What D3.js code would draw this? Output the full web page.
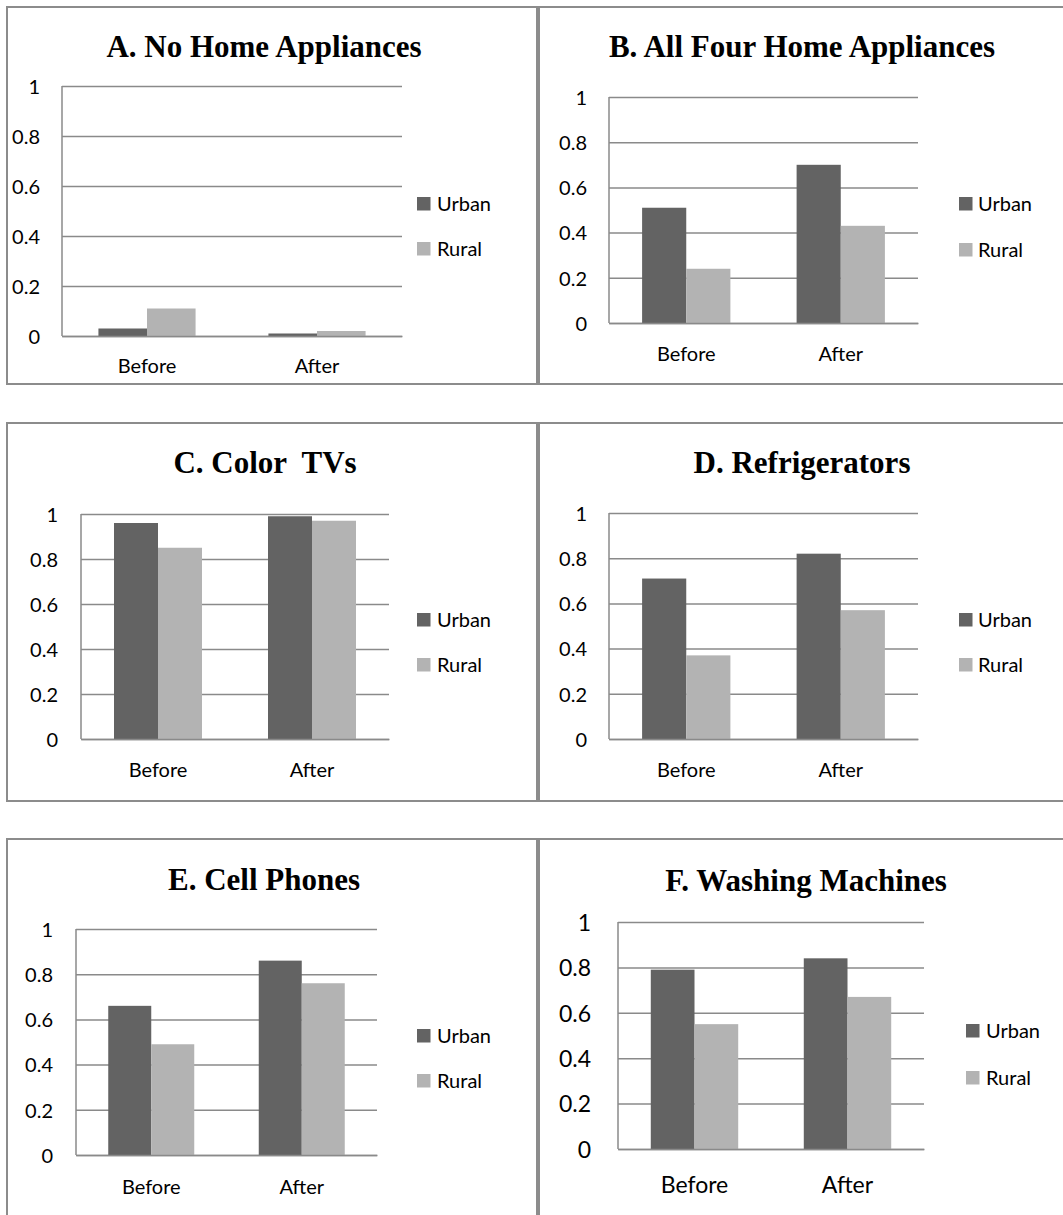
<!DOCTYPE html>
<html>
<head>
<meta charset="utf-8">
<script src="https://cdn.jsdelivr.net/npm/d3@7"></script>
<style>
  html, body { margin: 0; padding: 0; background: #ffffff; }
  svg { display: block; }
</style>
</head>
<body>
<script>
// ---------------- DATA ----------------
const categories = ["Before", "After"];
const seriesNames = ["Urban", "Rural"];
const panelTitles = [
  "A. No Home Appliances",
  "B. All Four Home Appliances",
  "C. Color  TVs",
  "D. Refrigerators",
  "E. Cell Phones",
  "F. Washing Machines"
];
const urbanValues = [
  [0.03, 0.01],
  [0.51, 0.70],
  [0.96, 0.99],
  [0.71, 0.82],
  [0.66, 0.86],
  [0.79, 0.84]
];
const ruralValues = [
  [0.11, 0.02],
  [0.24, 0.43],
  [0.85, 0.97],
  [0.37, 0.57],
  [0.49, 0.76],
  [0.55, 0.67]
];
const yTickValues = [0, 0.2, 0.4, 0.6, 0.8, 1];
const yTickLabels = ["0", "0.2", "0.4", "0.6", "0.8", "1"];

// ---------------- LAYOUT ----------------
const W = 1063, H = 1215;
const colors = { Urban: "#636363", Rural: "#b3b3b3" };
const gridColor = "#8a8a8a";
const borderColor = "#8c8c8c";

const layout = [
  { box: [7, 7, 530, 377],   plot: [62, 402, 86, 336],   tickRight: 40,  title: [264, 57],  leg: [417, 197, 242, 437], catBase: 373, fs: 20 },
  { box: [539, 7, 540, 377], plot: [609, 918, 97, 323],  tickRight: 587, title: [802, 57],  leg: [959, 197, 243, 978], catBase: 361, fs: 20 },
  { box: [7, 423, 530, 378], plot: [81, 389, 514, 739],  tickRight: 58,  title: [265, 473], leg: [417, 613, 658, 437], catBase: 777, fs: 20 },
  { box: [539, 423, 540, 378], plot: [609, 918, 513, 739], tickRight: 587, title: [802, 473], leg: [959, 613, 658, 978], catBase: 777, fs: 20 },
  { box: [7, 839, 530, 400], plot: [76, 377, 929, 1155], tickRight: 53,  title: [264, 890], leg: [417, 1029, 1074, 437], catBase: 1194, fs: 20 },
  { box: [539, 839, 540, 400], plot: [618, 924, 922, 1149], tickRight: 591, title: [806, 891], leg: [966, 1024, 1071, 986], catBase: 1193, fs: 23 }
];

const svg = d3.select("body").append("svg")
  .attr("width", W).attr("height", H)
  .attr("viewBox", `0 0 ${W} ${H}`);

svg.append("rect").attr("width", W).attr("height", H).attr("fill", "#ffffff");

layout.forEach((L, i) => {
  const g = svg.append("g").attr("class", "panel");
  const [bx, by, bw, bh] = L.box;
  g.append("rect")
    .attr("x", bx).attr("y", by).attr("width", bw).attr("height", bh)
    .attr("fill", "#ffffff").attr("stroke", borderColor).attr("stroke-width", 2);

  const [x0p, x1p, y0p, y1p] = L.plot;
  const x0 = d3.scaleBand().domain(categories).range([x0p, x1p]).paddingInner(0).paddingOuter(0);
  const x1 = d3.scaleBand().domain(seriesNames).range([0, x0.bandwidth()]).paddingInner(0).paddingOuter(0.75);
  const y = d3.scaleLinear().domain([0, 1]).range([y1p, y0p]);

  // title
  g.append("text")
    .attr("x", L.title[0]).attr("y", L.title[1])
    .attr("text-anchor", "middle")
    .style("white-space", "pre")
    .attr("font-family", "'Liberation Serif', 'Times New Roman', serif")
    .attr("font-weight", "bold")
    .attr("font-size", 31)
    .attr("fill", "#000")
    .text(panelTitles[i]);

  // gridlines via axis
  const yAxis = d3.axisLeft(y).tickValues(yTickValues)
    .tickSize(-(x1p - x0p)).tickFormat((d, k) => yTickLabels[k]).tickPadding(L.tickRight);
  const ag = g.append("g").attr("transform", `translate(${x0p},0)`).call(yAxis);
  ag.select(".domain").remove();
  ag.selectAll(".tick line").attr("stroke", gridColor).attr("stroke-width", 1.5);
  ag.selectAll(".tick text")
    .attr("x", L.tickRight - x0p)
    .attr("dy", "0.36em")
    .attr("text-anchor", "end")
    .attr("font-family", "Lato, 'Open Sans', sans-serif")
    .attr("font-size", L.fs)
    .attr("fill", "#000");

  // bars
  const data = categories.map((c, k) => ({ cat: c, vals: [
    { s: "Urban", v: urbanValues[i][k] },
    { s: "Rural", v: ruralValues[i][k] }
  ]}));
  const cg = g.selectAll(".cat").data(data).enter().append("g")
    .attr("transform", d => `translate(${x0(d.cat)},0)`);
  cg.selectAll("rect").data(d => d.vals).enter().append("rect")
    .attr("x", d => x1(d.s))
    .attr("width", x1.bandwidth())
    .attr("y", d => y(d.v))
    .attr("height", d => y(0) - y(d.v))
    .attr("fill", d => colors[d.s]);

  // axis lines
  g.append("line").attr("x1", x0p).attr("x2", x0p).attr("y1", y0p).attr("y2", y1p)
    .attr("stroke", gridColor).attr("stroke-width", 1.5);
  const xAxis = d3.axisBottom(x0).tickSize(0).tickPadding(0);
  const xg = g.append("g").attr("transform", `translate(0,${y1p})`).call(xAxis);
  xg.select(".domain").attr("stroke", gridColor).attr("stroke-width", 1.5);
  xg.selectAll(".tick text")
    .attr("y", L.catBase - y1p).attr("dy", 0)
    .attr("font-family", "Lato, 'Open Sans', sans-serif")
    .attr("font-size", L.fs)
    .attr("fill", "#000");

  // legend
  const [lx, ly1, ly2, tx] = L.leg;
  const sq = 13.5;
  [[seriesNames[0], ly1], [seriesNames[1], ly2]].forEach(([name, ly]) => {
    g.append("rect").attr("x", lx).attr("y", ly).attr("width", sq).attr("height", sq)
      .attr("fill", colors[name]);
    g.append("text").attr("x", tx).attr("y", ly + sq)
      .attr("font-family", "Lato, 'Open Sans', sans-serif")
      .attr("font-size", 20).attr("fill", "#000")
      .text(name);
  });
});
</script>
</body>
</html>
